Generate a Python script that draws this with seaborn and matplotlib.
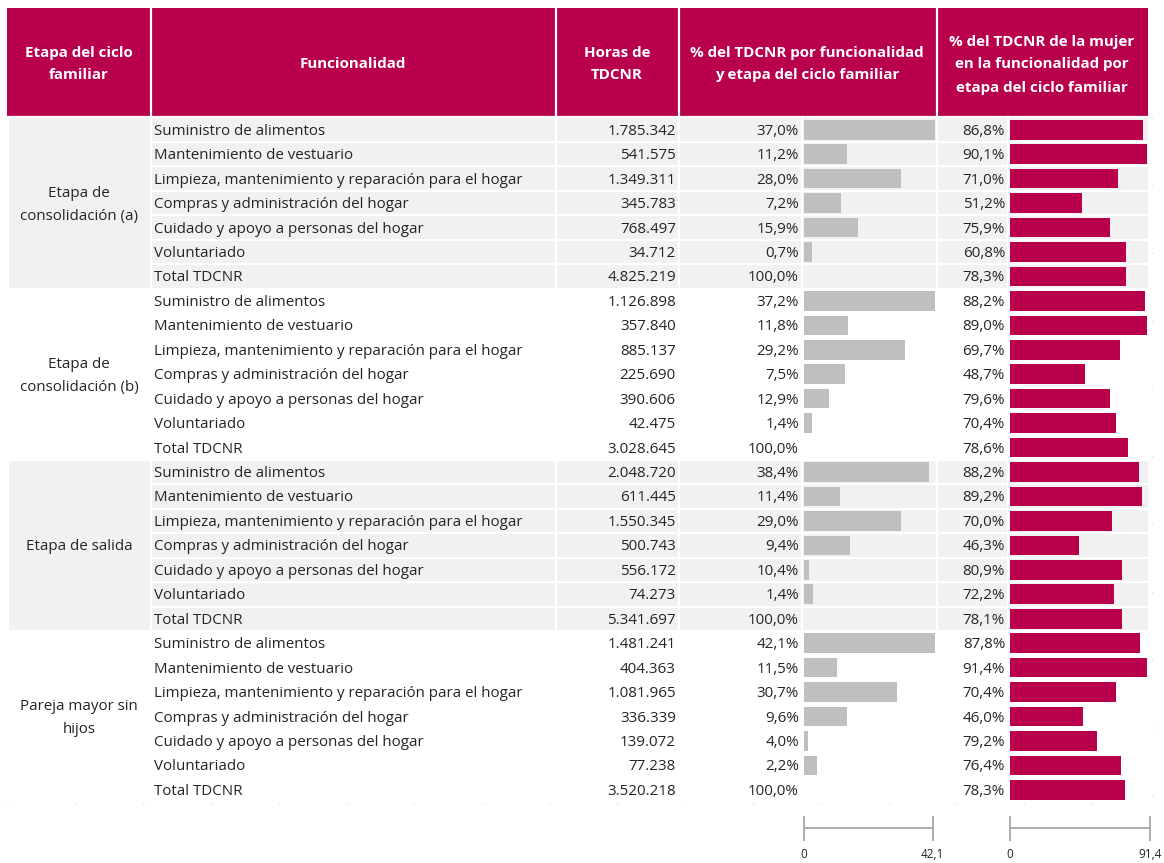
import matplotlib
matplotlib.use("Agg")
import matplotlib.pyplot as plt
import pandas as pd
import seaborn as sns

plt.rcParams['font.family'] = ['Open Sans', 'DejaVu Sans']

etapas = ["Etapa de\nconsolidación (a)", "Etapa de\nconsolidación (b)",
          "Etapa de salida", "Pareja mayor sin\nhijos"]
funcionalidades = ["Suministro de alimentos", "Mantenimiento de vestuario",
                   "Limpieza, mantenimiento y reparación para el hogar",
                   "Compras y administración del hogar",
                   "Cuidado y apoyo a personas del hogar", "Voluntariado",
                   "Total TDCNR"]

horas_a = [1785342, 541575, 1349311, 345783, 768497, 34712, 4825219]
horas_b = [1126898, 357840, 885137, 225690, 390606, 42475, 3028645]
horas_salida = [2048720, 611445, 1550345, 500743, 556172, 74273, 5341697]
horas_pareja = [1481241, 404363, 1081965, 336339, 139072, 77238, 3520218]

pct_a = [37.0, 11.2, 28.0, 7.2, 15.9, 0.7, 100.0]
pct_b = [37.2, 11.8, 29.2, 7.5, 12.9, 1.4, 100.0]
pct_salida = [38.4, 11.4, 29.0, 9.4, 10.4, 1.4, 100.0]
pct_pareja = [42.1, 11.5, 30.7, 9.6, 4.0, 2.2, 100.0]

mujer_a = [86.8, 90.1, 71.0, 51.2, 75.9, 60.8, 78.3]
mujer_b = [88.2, 89.0, 69.7, 48.7, 79.6, 70.4, 78.6]
mujer_salida = [88.2, 89.2, 70.0, 46.3, 80.9, 72.2, 78.1]
mujer_pareja = [87.8, 91.4, 70.4, 46.0, 79.2, 76.4, 78.3]

# bar lengths as drawn in the picture (axis 0-42,1 and 0-91,4)
barra_gris_a = [42.9, 14.1, 31.7, 12.1, 17.7, 2.6, 0]
barra_gris_b = [42.9, 14.4, 33.0, 13.4, 8.2, 2.6, 0]
barra_gris_salida = [40.9, 11.8, 31.7, 15.0, 1.6, 2.9, 0]
barra_gris_pareja = [42.9, 10.8, 30.4, 14.1, 1.3, 4.3, 0]

barra_mujer_a = [86.8, 89.4, 70.6, 47.3, 65.5, 75.8, 75.8]
barra_mujer_b = [88.1, 89.4, 71.9, 49.3, 65.5, 69.4, 77.1]
barra_mujer_salida = [84.3, 86.2, 66.8, 45.4, 73.2, 68.1, 73.2]
barra_mujer_pareja = [84.9, 89.4, 69.4, 48.0, 57.0, 72.6, 75.2]

eje_gris_max = 42.1
eje_mujer_max = 91.4

# build long table
horas = [horas_a, horas_b, horas_salida, horas_pareja]
pcts = [pct_a, pct_b, pct_salida, pct_pareja]
mujeres = [mujer_a, mujer_b, mujer_salida, mujer_pareja]
grises = [barra_gris_a, barra_gris_b, barra_gris_salida, barra_gris_pareja]
rojas = [barra_mujer_a, barra_mujer_b, barra_mujer_salida, barra_mujer_pareja]
rows = []
for g, etapa in enumerate(etapas):
    for i, f in enumerate(funcionalidades):
        rows.append({'fila': str(len(rows)), 'grupo': g, 'etapa': etapa, 'func': f,
                     'horas': horas[g][i], 'pct': pcts[g][i], 'mujer': mujeres[g][i],
                     'gris': grises[g][i], 'roja': rojas[g][i]})
df = pd.DataFrame(rows)
orden = list(df['fila'])

W, H = 1164, 863
MAGENTA = '#B8004C'
GRIS_BG = '#F1F1F1'
TXT = '#252423'
FS = 10.9
PX = 0.72  # points per pixel at dpi 100

top, pitch = 117.5, 24.45
n = len(df)
bottom = top + n * pitch
xl, xr = 7, 1148
cols = [150.5, 555.5, 678.5, 937]


def frac(x0, y0, x1, y1):
    return [x0 / W, 1 - y1 / H, (x1 - x0) / W, (y1 - y0) / H]


def fmt_miles(v):
    return f"{v:,}".replace(',', '.')


def fmt_pct(v):
    return f"{v:.1f}%".replace('.', ',')


fig = plt.figure(figsize=(W / 100, H / 100), dpi=100)
ax = fig.add_axes([0, 0, 1, 1])
ax.set_xlim(0, W)
ax.set_ylim(H, 0)
ax.axis('off')

# header
ax.add_patch(plt.Rectangle((xl, 8), xr - xl, top - 8, color=MAGENTA, lw=0))
for c in cols:
    ax.plot([c, c], [8, top], color='white', lw=1.6)
hdr = dict(color='white', fontsize=10.9, fontweight='bold', ha='center', va='center')
ax.text(79, 53, "Etapa del ciclo", **hdr)
ax.text(79, 75, "familiar", **hdr)
ax.text(353, 64, "Funcionalidad", **hdr)
ax.text(617, 53, "Horas de", **hdr)
ax.text(617, 75, "TDCNR", **hdr)
ax.text(807, 53, "% del TDCNR por funcionalidad", **hdr)
ax.text(807, 75, "y etapa del ciclo familiar", **hdr)
ax.text(1042, 42, "% del TDCNR de la mujer", **hdr)
ax.text(1042, 64, "en la funcionalidad por", **hdr)
ax.text(1042, 88, "etapa del ciclo familiar", **hdr)

# body backgrounds
nf = len(funcionalidades)
for g in range(len(etapas)):
    y0 = top + g * nf * pitch
    y1 = y0 + nf * pitch
    if g % 2 == 0:
        ax.add_patch(plt.Rectangle((xl + 2, y0), xr - xl - 2, y1 - y0, color=GRIS_BG, lw=0))
        for c in cols + [802, 1008]:
            ax.plot([c, c], [y0, y1], color='white', lw=1.6)
        for k in range(1, nf):
            yy = y0 + k * pitch
            ax.plot([151, xr], [yy, yy], color='white', lw=1.6)
    lines = etapas[g].split('\n')
    yc = (y0 + y1) / 2 + 1.5
    for j, ln in enumerate(lines):
        ax.text(79, yc + (j - (len(lines) - 1) / 2) * 23, ln, fontsize=FS,
                color=TXT, ha='center', va='center')
    ax.plot([xl, xr], [y0, y0], color='white', lw=1.6)

# body text
for i, r in df.iterrows():
    yc = top + (i + 0.5) * pitch + 1.5
    ax.text(154, yc, r['func'], fontsize=FS, color=TXT, ha='left', va='center')
    ax.text(676, yc, fmt_miles(r['horas']), fontsize=FS, color=TXT, ha='right', va='center')
    ax.text(799, yc, fmt_pct(r['pct']), fontsize=FS, color=TXT, ha='right', va='center')
    ax.text(1005, yc, fmt_pct(r['mujer']), fontsize=FS, color=TXT, ha='right', va='center')

# faint dotted border
ax.plot([xl, 1152], [bottom + 1, bottom + 1], color='#D9D9D9', lw=0.8, ls=(0, (1, 60)))
ax.plot([1152, 1152], [top, bottom], color='#D9D9D9', lw=0.8, ls=(0, (1, 60)))


# bar columns
def bar_axes(x0, x1, col, vmax, color):
    b = fig.add_axes(frac(x0, top, x1, bottom))
    sns.barplot(data=df, x=col, y='fila', order=orden, orient='h', color=color,
                saturation=1, width=0.8, errorbar=None, ax=b)
    for p in b.patches:
        p.set_clip_on(False)
        p.set_linewidth(0)
    b.set_xlim(0, vmax)
    b.set_ylim(n - 0.5, -0.5)
    b.patch.set_alpha(0)
    for s in ['top', 'left', 'right']:
        b.spines[s].set_visible(False)
    b.spines['bottom'].set_position(('outward', 26 * PX))
    b.spines['bottom'].set_color('#A6A6A6')
    b.spines['bottom'].set_linewidth(1.3)
    b.set_yticks([])
    b.set_ylabel('')
    b.set_xlabel('')
    b.set_xticks([0, vmax])
    b.set_xticklabels(['0', f"{vmax:.1f}".replace('.', ',')])
    b.tick_params(axis='x', direction='inout', length=25 * PX, width=1.3, color='#A6A6A6',
                  labelsize=8.5, labelcolor=TXT, pad=5)
    return b


bar_axes(804, 932.7, 'gris', eje_gris_max, '#BFBFBF')
bar_axes(1009.5, 1150, 'roja', eje_mujer_max, MAGENTA)

fig.savefig('out.png', dpi=100)
